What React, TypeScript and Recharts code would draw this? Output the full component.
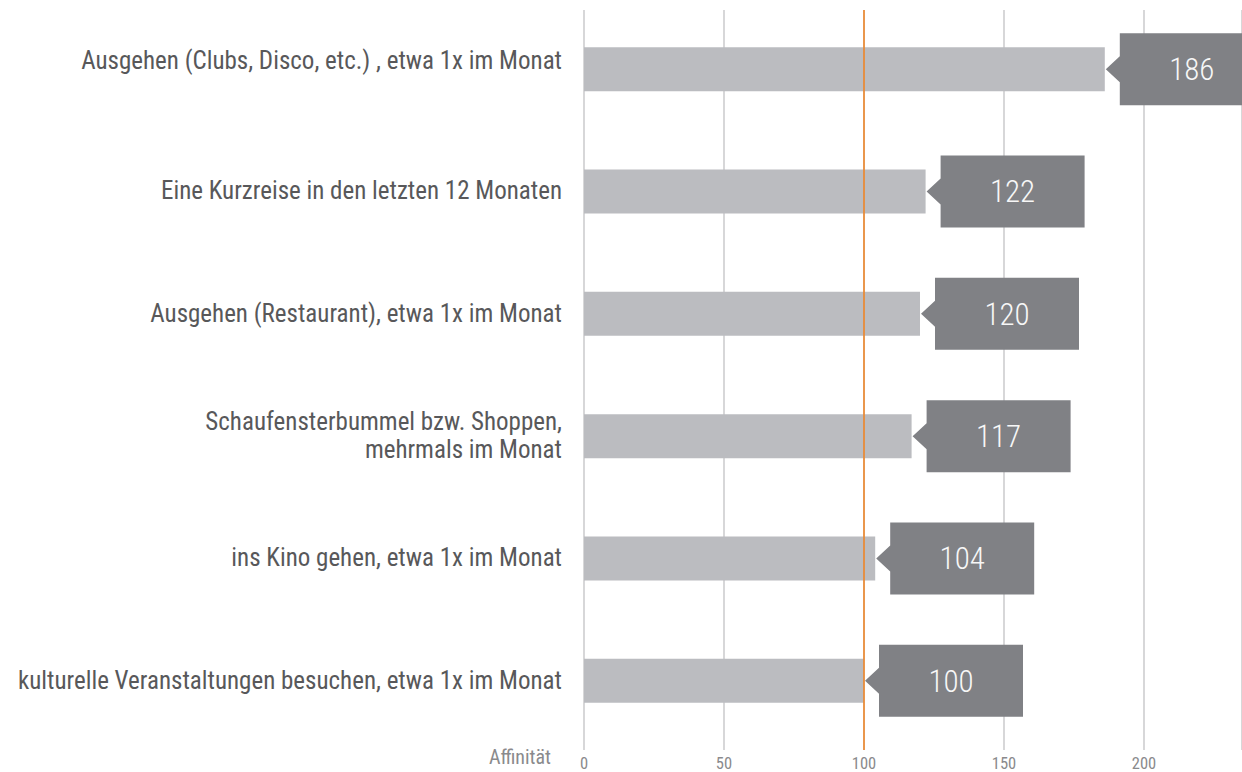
import React from 'react';
import { BarChart, Bar, XAxis, YAxis, CartesianGrid, ReferenceLine, LabelList } from 'recharts';

const categories: string[] = [
  'Ausgehen (Clubs, Disco, etc.) , etwa 1x im Monat',
  'Eine Kurzreise in den letzten 12 Monaten',
  'Ausgehen (Restaurant), etwa 1x im Monat',
  'Schaufensterbummel bzw. Shoppen,\nmehrmals im Monat',
  'ins Kino gehen, etwa 1x im Monat',
  'kulturelle Veranstaltungen besuchen, etwa 1x im Monat',
];
const affinity: number[] = [186, 122, 120, 117, 104, 100];
const xTicks: number[] = [0, 50, 100, 150, 200];
const axisTitle = 'Affinität';

const data = categories.map((name, i) => ({ name, value: affinity[i] }));

const FONT = "'Roboto Condensed', 'Liberation Sans Narrow', 'DejaVu Sans Condensed', Roboto, sans-serif";

const CategoryTick = (props: any) => {
  const { x, y, payload, index } = props;
  const lines = String(payload.value).split('\n');
  const lh = 28;
  const shift = index === 0 ? -8 : 0;
  const start = y - ((lines.length - 1) * lh) / 2 + shift - 1;
  return (
    <text x={x} y={start} textAnchor="end" fill="#58585a" fontSize={25} fontFamily={FONT}>
      {lines.map((l, i) => (
        <tspan key={i} x={x} y={start + i * lh} dy="0.35em">
          {l}
        </tspan>
      ))}
    </text>
  );
};

const ValueTick = (props: any) => {
  const { x, y, payload } = props;
  return (
    <text x={x} y={y} dy="0.71em" textAnchor="middle" fill="#8a8a8c" fontSize={16.5} fontFamily={FONT}>
      {payload.value}
    </text>
  );
};

const ValueBadge = (props: any) => {
  const { x, y, width, height, value } = props;
  const tip = x + width + 1;
  const cy = y + height / 2;
  const bx = tip + 14;
  const bw = 144;
  const bh = 72;
  const pts = [
    [tip, cy],
    [bx, cy - 13],
    [bx, cy - bh / 2],
    [bx + bw, cy - bh / 2],
    [bx + bw, cy + bh / 2],
    [bx, cy + bh / 2],
    [bx, cy + 13],
  ]
    .map((p) => p.join(','))
    .join(' ');
  return (
    <g>
      <polygon points={pts} fill="#808185" />
      <text x={bx + bw / 2} y={cy} dy="0.35em" textAnchor="middle" fill="#f7f7f7" fontSize={31} fontWeight={300} fontFamily={FONT}>
        {value}
      </text>
    </g>
  );
};

const AxisTitle = (props: any) => {
  const { viewBox } = props;
  return (
    <text x={viewBox.x - 33} y={viewBox.y} dy="0.71em" textAnchor="end" fill="#8a8a8c" fontSize={20} fontFamily={FONT}>
      {axisTitle}
    </text>
  );
};

export default function App() {
  return (
    <div style={{ position: 'absolute', left: 0, top: 0, background: '#fff' }}>
      <BarChart
        width={1242}
        height={772}
        data={data}
        layout="vertical"
        margin={{ top: 10, right: 0, bottom: 0, left: 0 }}
        barCategoryGap="32%"
      >
        <CartesianGrid horizontal={false} vertical stroke="#bdbdbf" strokeWidth={1.2} />
        <ReferenceLine x={100} stroke="#f0821e" strokeWidth={1.5} />
        <XAxis
          type="number"
          dataKey="value"
          domain={[0, 235]}
          ticks={xTicks}
          axisLine={false}
          tickLine={false}
          height={22}
          tick={<ValueTick />}
          tickMargin={1}
          label={<AxisTitle />}
        />
        <YAxis
          type="category"
          dataKey="name"
          width={584}
          axisLine={false}
          tickLine={false}
          tickSize={0}
          tickMargin={22}
          tick={<CategoryTick />}
          interval={0}
          padding={{ top: -2, bottom: 8 }}
        />
        <Bar dataKey="value" fill="#bbbcc0" isAnimationActive={false}>
          <LabelList dataKey="value" content={<ValueBadge />} />
        </Bar>
      </BarChart>
    </div>
  );
}
